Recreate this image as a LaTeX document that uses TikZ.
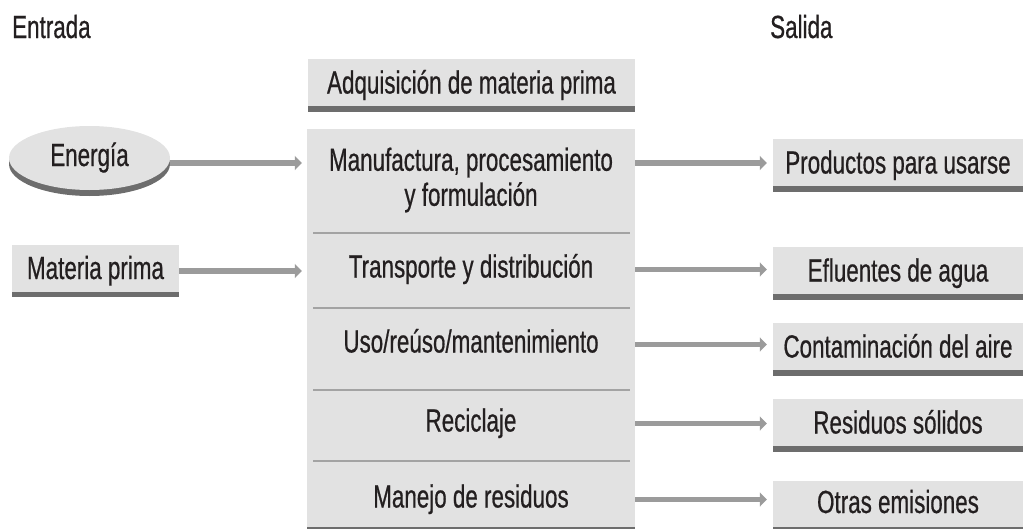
\documentclass[tikz,border=0pt]{standalone}
\usepackage{fontspec}
\setmainfont{Liberation Sans}[FakeStretch=0.7,FakeBold=0.6]
\usetikzlibrary{arrows.meta,shapes.geometric,shadows}
\definecolor{cajagris}{HTML}{E2E2E2}
\definecolor{barra}{HTML}{6D6D6D}
\definecolor{flechagris}{HTML}{9B9B9B}
\definecolor{lineagris}{HTML}{A3A3A3}
\definecolor{texto}{HTML}{231F20}
\tikzset{
  every node/.style={font=\fontsize{32}{35}\selectfont,text=texto,inner sep=0pt},
  etapa/.style={text height=22pt,text depth=6pt},
  caja/.style={fill=cajagris,etapa,
    path picture={\fill[barra] (path picture bounding box.south west) rectangle ([yshift=#1]path picture bounding box.south east);}},
  caja/.default=6pt,
  salida/.style={caja=#1,minimum width=250pt,minimum height=53pt},
  salida/.default=6pt,
  flecha/.style={draw=flechagris,line width=5.5pt,-{Triangle[length=7pt,width=14pt]}},
  separa/.style={draw=lineagris,line width=2pt}
}
\begin{document}
\begin{tikzpicture}[x=1pt,y=-1pt]
    \useasboundingbox (0,0) rectangle (1023,530);

    \node [anchor=base west](ent)at(12,38){Entrada};
    \node [anchor=base west](sal)at(770,38){Salida};

    \node [caja,minimum width=327pt,minimum height=53pt](adq)at(471.5,85.5){Adquisición de materia prima};
    \node [caja=2pt,minimum width=328pt,minimum height=400pt](proc)at(471,329){};
    \node [align=center](manuf)at(471,180){Manufactura, procesamiento\\y formulación};
    \node [etapa](trans)at(471,269.5){Transporte y distribución};
    \node [etapa](uso)at(471,344.5){Uso/reúso/mantenimiento};
    \node [etapa](reci)at(471,423.5){Reciclaje};
    \node [etapa](mane)at(471,499.5){Manejo de residuos};
    \foreach \y in {233,308,390,461}
        \draw [separa] (313,\y) -- (630,\y);

    \node [ellipse,fill=cajagris,etapa,minimum width=161pt,minimum height=64pt,
        drop shadow={shadow xshift=0pt,shadow yshift=-6pt,fill=barra,opacity=1}](ener)at(89.5,158){Energía};
    \node [caja=5pt,minimum width=167pt,minimum height=52pt](mat)at(95.5,271){Materia prima};

    \node [salida](prod)at(898,165.5){Productos para usarse};
    \node [salida](eflu)at(898,273.5){Efluentes de agua};
    \node [salida](aire)at(898,349.5){Contaminación del aire};
    \node [salida](soli)at(898,425.5){Residuos sólidos};
    \node [salida=2pt,minimum height=48pt](otra)at(898,505){Otras emisiones};

    \draw [flecha,shorten >=5pt] ([yshift=-5pt]ener.east) -- ([yshift=-5pt]ener.east -| proc.west);
    \draw [flecha,shorten >=5pt] (mat) -- (mat -| proc.west);
    \draw [flecha,shorten >=6pt] ([yshift=-5pt]ener.east -| proc.east) -- ([yshift=-5pt]ener.east -| prod.west);
    \foreach \e/\s in {trans/eflu,uso/aire,reci/soli,mane/otra}
        \draw [flecha,shorten >=6pt] (\e -| proc.east) -- (\e -| \s.west);
\end{tikzpicture}
\end{document}
